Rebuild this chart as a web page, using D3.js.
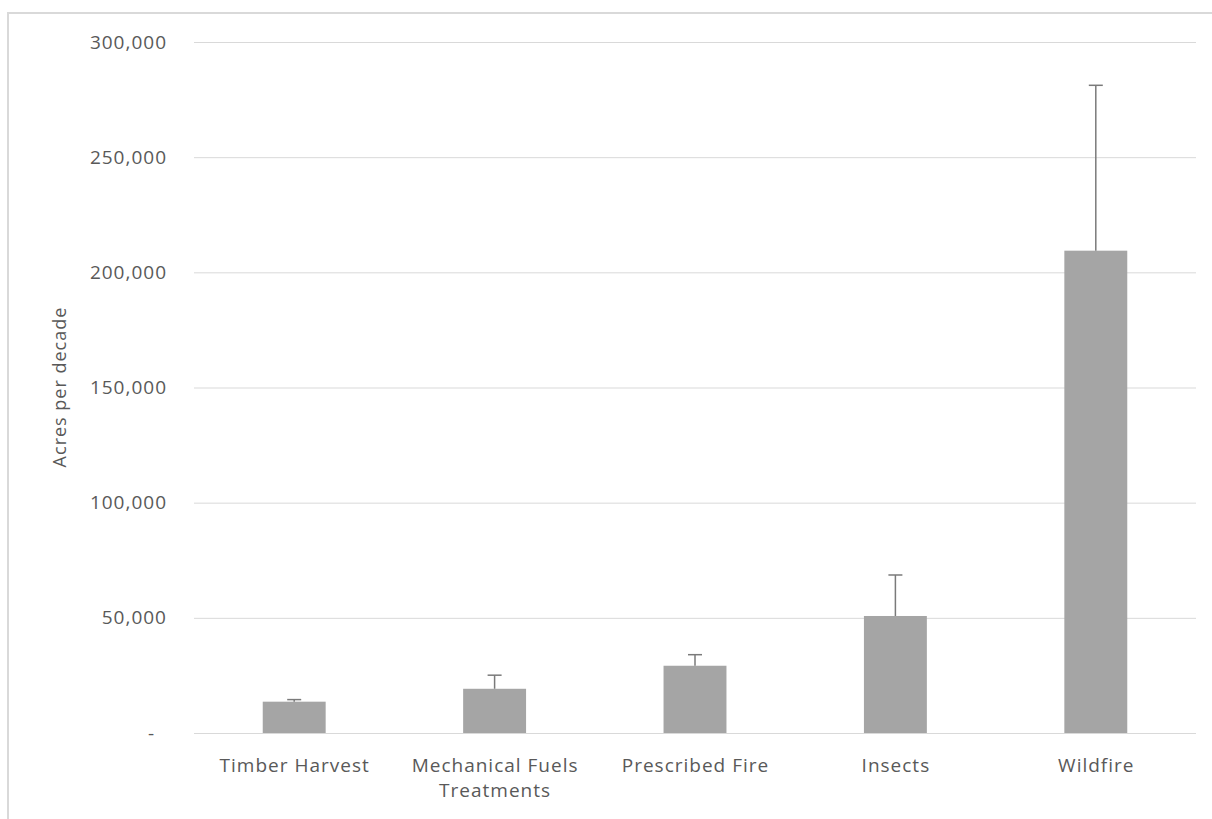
<!DOCTYPE html>
<html>
<head>
<meta charset="utf-8">
<script src="https://cdn.jsdelivr.net/npm/d3@7/dist/d3.min.js"></script>
<style>
  html, body { margin: 0; padding: 0; background: #ffffff; }
  svg { display: block; }
  text { font-family: "Open Sans", "Noto Sans", sans-serif; fill: #595959; }
</style>
</head>
<body>
<svg id="chart" width="1212" height="819"></svg>
<script>
const categories = ["Timber Harvest", "Mechanical Fuels Treatments", "Prescribed Fire", "Insects", "Wildfire"];
const categoryLines = [["Timber Harvest"], ["Mechanical Fuels", "Treatments"], ["Prescribed Fire"], ["Insects"], ["Wildfire"]];
const values = [13600, 19200, 29200, 50800, 209400];
const errorPlus = [900, 5900, 4800, 17800, 71800];
const yTicks = [0, 50000, 100000, 150000, 200000, 250000, 300000];
const yTitle = "Acres per decade";

(function () {
const svg = d3.select("#chart");
const W = 1212, H = 819;

// outer chart border (partially cropped)
svg.append("rect")
  .attr("x", 8).attr("y", 13)
  .attr("width", W + 20).attr("height", H + 20)
  .attr("fill", "none").attr("stroke", "#d9d9d9").attr("stroke-width", 2);

const pLeft = 194, pRight = 1196, pTop = 42, pBottom = 733;

const x = d3.scaleBand().domain(categories).range([pLeft, pRight])
  .paddingInner(0.686).paddingOuter(0.343);
const y = d3.scaleLinear().domain([0, 300000]).range([pBottom, pTop]);

const fmt = d3.format(",");

// gridlines
svg.append("g").selectAll("line").data(yTicks).join("line")
  .attr("x1", pLeft).attr("x2", pRight)
  .attr("y1", d => y(d) + 0.5).attr("y2", d => y(d) + 0.5)
  .attr("stroke", "#d9d9d9").attr("stroke-width", 1);

// y tick labels
svg.append("g").selectAll("text").data(yTicks).join("text")
  .attr("x", d => d === 0 ? 155 : 167)
  .attr("y", d => y(d))
  .attr("dy", "0.35em")
  .attr("text-anchor", "end")
  .attr("font-size", 19)
  .attr("letter-spacing", 1)
  .text(d => d === 0 ? "-" : fmt(d));

// bars
svg.append("g").selectAll("rect").data(categories).join("rect")
  .attr("x", d => x(d))
  .attr("width", x.bandwidth())
  .attr("y", (d, i) => y(values[i]))
  .attr("height", (d, i) => y(0) - y(values[i]))
  .attr("fill", "#a5a5a5");

// error bars
const eg = svg.append("g").attr("stroke", "#7a7a7a").attr("stroke-width", 1.5);
categories.forEach((c, i) => {
  const cx = x(c) + x.bandwidth() / 2;
  eg.append("line").attr("x1", cx).attr("x2", cx)
    .attr("y1", y(values[i])).attr("y2", y(values[i] + errorPlus[i]));
  eg.append("line").attr("x1", cx - 7).attr("x2", cx + 7)
    .attr("y1", y(values[i] + errorPlus[i])).attr("y2", y(values[i] + errorPlus[i]));
});

// x category labels
const xl = svg.append("g");
categories.forEach((c, i) => {
  const cx = x(c) + x.bandwidth() / 2 + 0.5;
  const t = xl.append("text").attr("text-anchor", "middle")
    .attr("font-size", 19).attr("letter-spacing", 1);
  categoryLines[i].forEach((line, j) => {
    t.append("tspan").attr("x", cx).attr("y", 772 + j * 25).text(line);
  });
});

// y axis title
svg.append("text")
  .attr("transform", "translate(66,387) rotate(-90)")
  .attr("text-anchor", "middle")
  .attr("font-size", 18)
  .attr("letter-spacing", 1)
  .text(yTitle);
})();
</script>
</body>
</html>
